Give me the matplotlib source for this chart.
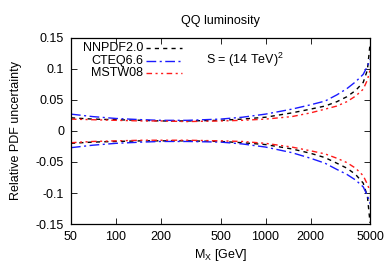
import numpy as np
import matplotlib
matplotlib.use("Agg")
import matplotlib.pyplot as plt
from matplotlib.lines import Line2D

plt.rcParams['font.family'] = ['Liberation Sans', 'DejaVu Sans']
plt.rcParams['mathtext.fontset'] = 'custom'
plt.rcParams['mathtext.rm'] = 'Liberation Sans'
plt.rcParams['mathtext.it'] = 'Liberation Sans'

# invariant mass grid (GeV)
mx = [50, 70, 100, 150, 200, 300, 500, 700, 1000, 1500, 2000, 2500, 3000, 3500, 4000, 4500, 4800, 5000]

# upper / lower relative uncertainty bands
nnpdf_up = [0.021, 0.019, 0.018, 0.017, 0.016, 0.016, 0.017, 0.019, 0.022, 0.029, 0.035, 0.040, 0.047, 0.055, 0.065, 0.078, 0.098, 0.140]
nnpdf_dn = [-0.020, -0.018, -0.017, -0.016, -0.016, -0.016, -0.017, -0.019, -0.022, -0.029, -0.036, -0.043, -0.052, -0.060, -0.070, -0.084, -0.105, -0.148]
cteq_up = [0.027, 0.023, 0.020, 0.018, 0.017, 0.017, 0.019, 0.022, 0.027, 0.035, 0.042, 0.048, 0.058, 0.068, 0.079, 0.091, 0.104, 0.115]
cteq_dn = [-0.027, -0.023, -0.020, -0.018, -0.017, -0.017, -0.018, -0.021, -0.026, -0.035, -0.044, -0.052, -0.062, -0.070, -0.079, -0.090, -0.104, -0.117]
mstw_up = [0.019, 0.018, 0.017, 0.016, 0.016, 0.015, 0.016, 0.017, 0.019, 0.023, 0.029, 0.035, 0.040, 0.047, 0.056, 0.067, 0.082, 0.098]
mstw_dn = [-0.019, -0.017, -0.016, -0.015, -0.015, -0.015, -0.016, -0.017, -0.020, -0.026, -0.032, -0.037, -0.044, -0.051, -0.060, -0.072, -0.086, -0.097]

labels = ['NNPDF2.0', 'CTEQ6.6', 'MSTW08']
colors = ['black', '#1a1aff', '#ff1a1a']
dashes = [(3, 3), (7, 2.5, 1.5, 2.5), (4, 2.5, 1.5, 2.5, 1.5, 2.5)]

xticks = [50, 100, 200, 500, 1000, 2000, 5000]
yticks = [-0.15, -0.1, -0.05, 0, 0.05, 0.1, 0.15]
ytick_labels = ['-0.15', '-0.1', '-0.05', '0', '0.05', '0.1', '0.15']

fig = plt.figure(figsize=(3.92, 2.75), dpi=100)
ax = fig.add_axes([0.181, 0.185, 0.763, 0.678])

bands = [(nnpdf_up, nnpdf_dn), (cteq_up, cteq_dn), (mstw_up, mstw_dn)]
for (up, dn), c, d in zip(bands, colors, dashes):
    ax.plot(mx, up, color=c, lw=1.0, dashes=d)
    ax.plot(mx, dn, color=c, lw=1.0, dashes=d)

ax.set_xscale('log')
ax.set_xlim(50, 5000)
ax.set_ylim(-0.15, 0.15)
ax.set_xticks(xticks)
ax.set_xticklabels([str(t) for t in xticks])
ax.xaxis.set_minor_locator(matplotlib.ticker.NullLocator())
ax.set_yticks(yticks)
ax.set_yticklabels(ytick_labels)
ax.tick_params(direction='in', top=True, right=True, length=4, width=0.6,
               labelsize=9, pad=5)
for s in ax.spines.values():
    s.set_linewidth(0.9)

ax.set_xlabel(r'M$_\mathrm{X}$ [GeV]', fontsize=9, labelpad=3)
ax.set_ylabel('Relative PDF uncertainty', fontsize=9, labelpad=10)
ax.set_title('QQ luminosity', fontsize=9, pad=10)

# gnuplot style key: right aligned text, sample to the right
rows = [0.945, 0.877, 0.812]
for lab, c, d, yy in zip(labels, colors, dashes, rows):
    ax.text(0.241, yy, lab, transform=ax.transAxes, ha='right', va='center', fontsize=9)
    ax.add_line(Line2D([0.25, 0.372], [yy, yy], transform=ax.transAxes,
                       color=c, lw=1.0, dashes=d))

ax.text(0.45, 0.88, r'S = (14 TeV)$^2$', transform=ax.transAxes,
        ha='left', va='center', fontsize=9)

fig.savefig('out.png', dpi=100)
